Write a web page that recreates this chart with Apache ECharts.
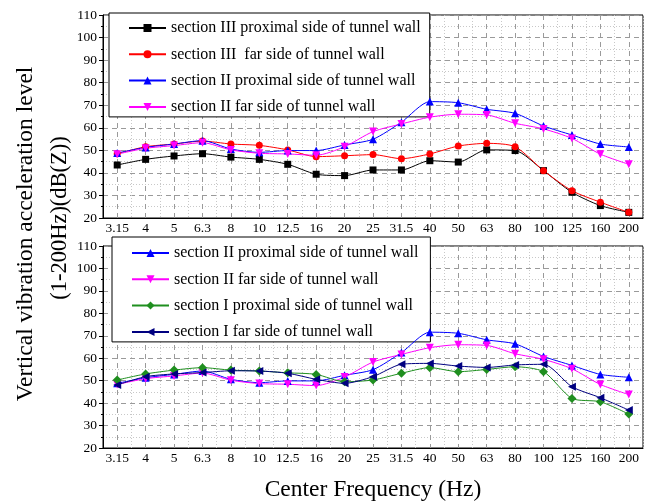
<!DOCTYPE html>
<html>
<head>
<meta charset="utf-8">
<script src="https://cdn.jsdelivr.net/npm/echarts@6/dist/echarts.min.js"></script>
<style>
html,body{margin:0;padding:0;background:#fff;}
#chart{width:654px;height:504px;}
</style>
</head>
<body>
<div id="chart"></div>
<script>
var categories = ['3.15','4','5','6.3','8','10','12.5','16','20','25','31.5','40','50','63','80','100','125','160','200'];
var yTicks = {min: 20, max: 110, step: 10};

var sec3Prox = [43.5, 46, 47.5, 48.5, 47, 46, 43.8, 39.4, 38.8, 41.3, 41.3, 45.4, 44.8, 50.2, 49.9, 41, 31.4, 25.5, 22.5];
var sec3Far  = [48.5, 51.6, 52.8, 54.1, 52.8, 52.2, 50.2, 47.2, 47.6, 48.1, 46.3, 48.4, 51.9, 53.1, 51.6, 41, 32.1, 27, 22.5];
var sec2Prox = [48.8, 51.3, 52.8, 54.3, 50.6, 49.1, 49.9, 49.9, 52.4, 54.9, 62.5, 71.6, 71.1, 68.2, 66.4, 60.8, 56.8, 52.8, 51.5];
var sec2Far  = [48.3, 50.9, 52.1, 53.4, 50.2, 48.7, 48.4, 47.8, 51.6, 58.3, 61.7, 64.7, 66, 65.7, 62, 59.5, 55.3, 48.3, 43.8];
var sec1Prox = [50.3, 53, 54.7, 55.8, 54.7, 54.3, 53.5, 52.8, 49.5, 50.3, 53.3, 55.8, 54, 55, 56.2, 54, 42.1, 40.6, 35.1];
var sec1Far  = [48.1, 51.8, 53, 53.6, 54.4, 54.3, 53.3, 50.6, 48.8, 51.8, 57.3, 57.7, 56.5, 55.9, 57, 57.3, 47.3, 42.4, 36.9];

var names = {
  s3p: 'section III proximal side of tunnel wall',
  s3f: 'section III  far side of tunnel wall',
  s2p: 'section II proximal side of tunnel wall',
  s2f: 'section II far side of tunnel wall',
  s1p: 'section I proximal side of tunnel wall',
  s1f: 'section I far side of tunnel wall'
};

var FONT = "'Liberation Serif','Times New Roman',serif";
var halfSteps = [];
for (var i = 0; i < categories.length * 2 + 1; i++) halfSteps.push('');

function catAxis(g) {
  return {
    type: 'category', gridIndex: g, data: categories, boundaryGap: true,
    axisLine: {lineStyle: {color: '#000', width: 1}},
    axisTick: {show: false},
    axisLabel: {interval: 0, color: '#000', fontFamily: FONT, fontSize: 13.5, margin: 3},
    splitLine: {show: true, interval: 0, lineStyle: {color: '#c8c8c8', type: [1, 2], width: 1}}
  };
}
function centerAxis(g) {
  return {
    type: 'category', gridIndex: g, data: halfSteps, boundaryGap: false, position: 'top',
    axisLine: {show: false}, axisTick: {show: false}, axisLabel: {show: false},
    splitLine: {show: true, interval: function (idx) { return idx % 2 === 1; },
      lineStyle: {color: '#9a9a9a', type: [5, 4], width: 1}}
  };
}
function valAxis(g) {
  return {
    type: 'value', gridIndex: g, min: yTicks.min, max: yTicks.max, interval: yTicks.step,
    axisLine: {show: true, lineStyle: {color: '#000', width: 1}},
    axisTick: {show: true, length: 4, lineStyle: {color: '#000'}},
    minorTick: {show: true, splitNumber: 2, length: 2, lineStyle: {color: '#000'}},
    axisLabel: {color: '#000', fontFamily: FONT, fontSize: 13.5, margin: 6},
    splitLine: {show: true, lineStyle: {color: '#9a9a9a', type: [5, 4], width: 1}},
    minorSplitLine: {show: true, lineStyle: {color: '#c8c8c8', type: [1, 2], width: 1}}
  };
}
function line(name, data, color, symbol, size, rot, xi, yi) {
  return {
    type: 'line', name: name, data: data, xAxisIndex: xi, yAxisIndex: yi,
    smooth: 0.25, symbol: symbol, symbolSize: size, symbolRotate: rot || 0,
    lineStyle: {color: color, width: 1},
    itemStyle: {color: color},
    z: 5
  };
}
var legendBase = {
  orient: 'vertical', backgroundColor: '#fff', borderColor: '#000', borderWidth: 1,
  itemWidth: 37, itemHeight: 10, itemGap: 10.3,
  textStyle: {color: '#000', fontFamily: FONT, fontSize: 16, lineHeight: 16},
  selectedMode: false
};

var option = {
  animation: false,
  backgroundColor: '#fff',
  grid: [
    {left: 103, top: 15, width: 540, height: 203, show: true, borderColor: '#000', borderWidth: 1, backgroundColor: 'transparent'},
    {left: 103, top: 246, width: 540, height: 202, show: true, borderColor: '#000', borderWidth: 1, backgroundColor: 'transparent'}
  ],
  xAxis: [catAxis(0), centerAxis(0), catAxis(1), centerAxis(1)],
  yAxis: [valAxis(0), valAxis(1)],
  legend: [
    Object.assign({}, legendBase, {left: 109, top: 13, padding: [7, 9, 2, 19],
      data: [names.s3p, names.s3f, names.s2p, names.s2f]}),
    Object.assign({}, legendBase, {left: 112, top: 237, padding: [8, 12, 2, 19],
      data: [names.s2p, names.s2f, names.s1p, names.s1f]})
  ],
  series: [
    line(names.s3p, sec3Prox, '#000000', 'rect', 7, 0, 0, 0),
    line(names.s3f, sec3Far, '#ff0000', 'circle', 7, 0, 0, 0),
    line(names.s2p, sec2Prox, '#0000ff', 'triangle', 8, 0, 0, 0),
    line(names.s2f, sec2Far, '#ff00ff', 'triangle', 8, 180, 0, 0),
    line(names.s2p, sec2Prox, '#0000ff', 'triangle', 8, 0, 2, 1),
    line(names.s2f, sec2Far, '#ff00ff', 'triangle', 8, 180, 2, 1),
    line(names.s1p, sec1Prox, '#1f8f1f', 'diamond', 9, 0, 2, 1),
    line(names.s1f, sec1Far, '#000080', 'triangle', 8, 90, 2, 1)
  ],
  graphic: [
    {type: 'text', x: 26, y: 234, rotation: Math.PI / 2,
      style: {text: 'Vertical vibration acceleration level', fill: '#000', font: '23.5px ' + FONT, textAlign: 'center', textVerticalAlign: 'middle'}},
    {type: 'text', x: 60, y: 218, rotation: Math.PI / 2,
      style: {text: '(1-200Hz)(dB(Z))', fill: '#000', font: '22.5px ' + FONT, textAlign: 'center', textVerticalAlign: 'middle'}},
    {type: 'text', x: 373, y: 490,
      style: {text: 'Center Frequency (Hz)', fill: '#000', font: '23.5px ' + FONT, textAlign: 'center', textVerticalAlign: 'middle'}}
  ]
};
var chart = echarts.init(document.getElementById('chart'), null, {renderer: 'canvas'});
chart.setOption(option);
</script>
</body>
</html>
